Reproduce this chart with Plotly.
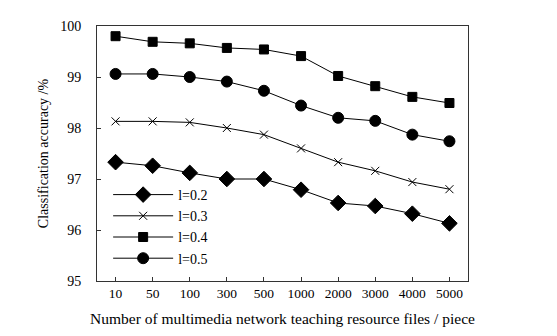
import plotly.graph_objects as go

# ==================================================
# DATA
# ==================================================
files = ["10", "50", "100", "300", "500", "1000", "2000", "3000", "4000", "5000"]

acc_l02 = [97.33, 97.26, 97.12, 97.00, 97.00, 96.79, 96.53, 96.47, 96.32, 96.13]
acc_l03 = [98.13, 98.13, 98.11, 98.00, 97.87, 97.60, 97.33, 97.16, 96.94, 96.80]
acc_l04 = [99.80, 99.69, 99.66, 99.57, 99.54, 99.41, 99.02, 98.82, 98.61, 98.49]
acc_l05 = [99.06, 99.06, 99.00, 98.91, 98.73, 98.44, 98.20, 98.14, 97.87, 97.74]

series = [
    ("l=0.2", acc_l02, "diamond", 12),
    ("l=0.3", acc_l03, "x-thin-open", 8),
    ("l=0.4", acc_l04, "square", 9),
    ("l=0.5", acc_l05, "circle", 11),
]

FONT = "Liberation Serif, Times New Roman, serif"

fig = go.Figure()

# -------------------
# Lines
# -------------------
for name, vals, sym, size in series:
    fig.add_trace(go.Scatter(
        x=files,
        y=vals,
        name=name,
        mode='lines+markers',
        line=dict(color='black', width=1),
        marker=dict(symbol=sym, size=size, color='black',
                    line=dict(color='black', width=1)),
    ))

# -------------------
# Layout  (page body has an 8px margin, so offsets are trimmed by 8)
# -------------------
fig.update_layout(
    width=557,
    height=336,
    margin=dict(l=89, r=97, t=11, b=63),
    paper_bgcolor='white',
    plot_bgcolor='white',
    font=dict(family=FONT, size=14, color='black'),
    legend=dict(
        x=0.03, y=0.40, xanchor='left', yanchor='top',
        bgcolor='rgba(0,0,0,0)',
        font=dict(family=FONT, size=14),
        itemwidth=60,
        tracegroupgap=0,
    ),
    xaxis=dict(
        type='category',
        range=[-0.5, 9.5],
        showgrid=False, zeroline=False,
        showline=True, linecolor='#333', linewidth=1, mirror=True,
        ticks='inside', ticklen=4, tickcolor='#333',
        tickfont=dict(size=13.5),
        title=dict(text="Number of multimedia network teaching resource files / piece",
                   font=dict(size=15.5), standoff=12),
    ),
    yaxis=dict(
        range=[95, 100],
        dtick=1,
        showgrid=False, zeroline=False,
        showline=True, linecolor='#333', linewidth=1, mirror=True,
        ticks='inside', ticklen=4, tickcolor='#333',
        ticklabelstandoff=12,
        tickfont=dict(size=14),
        title=dict(text="Classification accuracy /%", font=dict(size=14), standoff=8),
    ),
)

fig.write_html("out.html")
